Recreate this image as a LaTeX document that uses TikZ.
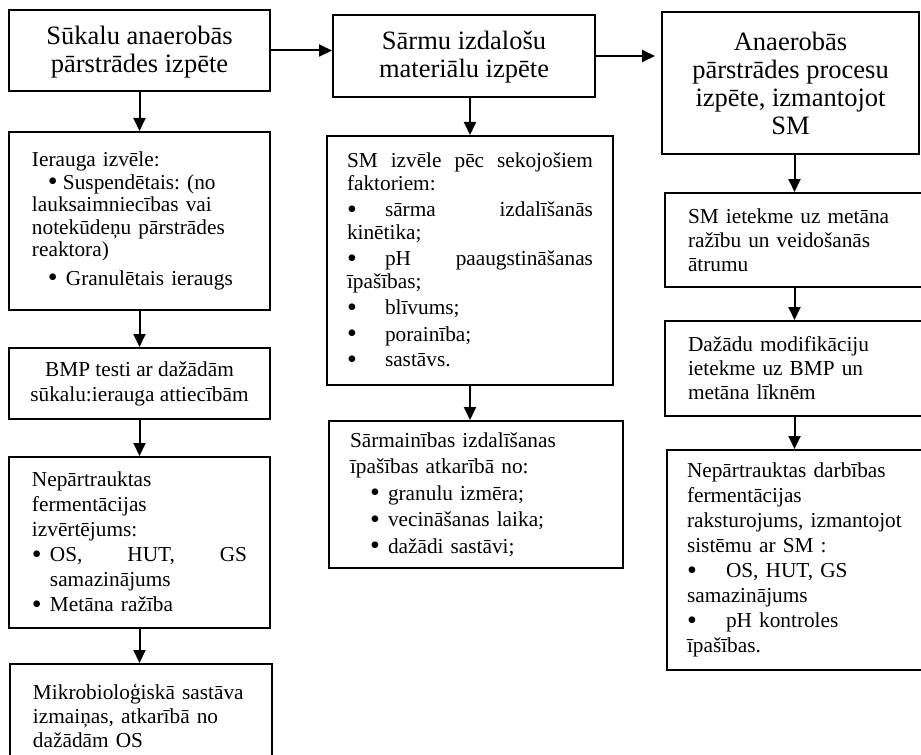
\documentclass[tikz,border=0pt]{standalone}
\usepackage{fontspec}
\setmainfont{Liberation Serif}
\usetikzlibrary{arrows.meta}
\frenchspacing
\hyphenpenalty=10000
\exhyphenpenalty=10000
\newcommand{\blt}{\raisebox{-1.5bp}{\fontsize{28bp}{0bp}\selectfont •}}

\tikzset{every picture/.style={line width=2bp}}
\tikzset{
  box/.style={draw, inner ysep=0pt, align=left, font=\fontsize{21.3bp}{24bp}\selectfont},
  headbox/.style={box, align=center, font=\fontsize{26.5bp}{28bp}\selectfont},
  arr/.style={-{Triangle[length=13bp,width=12bp]}}
}

\begin{document}
\begin{tikzpicture}[x=1bp,y=1bp,yscale=-1,xscale=1]
\useasboundingbox (0,0) rectangle (921,755);

%Shape: Rectangle [id:sukalu]
\node[headbox, minimum width=261bp, minimum height=81bp, text depth=3bp] (sukalu) at (139.5,50.5) {Sūkalu anaerobās\\pārstrādes izpēte};
%Shape: Rectangle [id:sarmu]
\node[headbox, minimum width=262bp, minimum height=82bp, text depth=3bp] (sarmu) at (464,56) {Sārmu izdalošu\\materiālu izpēte};
%Shape: Rectangle [id:anaer]
\node[headbox, minimum width=257bp, minimum height=142bp] (anaer) at (790.5,83) {Anaerobās\\pārstrādes procesu\\izpēte, izmantojot\\SM};

%Shape: Rectangle [id:ierauga]
\node[box, minimum width=261bp, minimum height=178bp, text width=215bp, inner xsep=23bp, font=\fontsize{21.3bp}{22.5bp}\selectfont] (ierauga) at (139.5,221) {Ierauga izvēle:\\ \hspace*{16bp}\makebox[15bp][l]{\blt}Suspendētais: (no\\ lauksaimniecības vai\\ notekūdeņu pārstrādes\\ reaktora)\\[6bp] \hspace*{16bp}\makebox[18bp][l]{\blt}Granulētais ieraugs};
%Shape: Rectangle [id:bmp]
\node[box, align=center, minimum width=261bp, minimum height=71bp, font=\fontsize{21.3bp}{25bp}\selectfont] (bmp) at (139.5,383.5) {BMP testi ar dažādām\\sūkalu:ierauga attiecībām};
%Shape: Rectangle [id:nepart]
\node[box, minimum width=261bp, minimum height=171bp, text width=215bp, inner xsep=23bp, font=\fontsize{21.3bp}{25bp}\selectfont] (nepart) at (139.5,542.5) {Nepārtrauktas\\ fermentācijas\\ izvērtējums:\\ \makebox[18bp][l]{\blt}OS,\hfill HUT,\hfill GS\\ \hspace*{18bp}samazinājums\\ \makebox[18bp][l]{\blt}Metāna ražība};
%Shape: Rectangle [id:mikro]
\node[box, minimum width=262bp, minimum height=104bp, text width=216bp, inner xsep=23bp] (mikro) at (141,716) {Mikrobioloģiskā sastāva\\ izmaiņas, atkarībā no\\ dažādām OS};

%Shape: Rectangle [id:smizvele]
\node[box, minimum width=286bp, minimum height=249bp, text width=246bp, inner xsep=20bp, font=\fontsize{21.3bp}{22.5bp}\selectfont] (smizvele) at (470,260.5) {SM\hfill izvēle\hfill pēc\hfill sekojošiem\\ faktoriem:\\[4bp] \makebox[38bp][l]{\blt}sārma\hfill izdalīšanās\\ kinētika;\\[4bp] \makebox[38bp][l]{\blt}pH\hfill paaugstināšanas\\ īpašības;\\[4bp] \makebox[38bp][l]{\blt}blīvums;\\[4bp] \makebox[38bp][l]{\blt}porainība;\\[3bp] \makebox[38bp][l]{\blt}sastāvs.};
%Shape: Rectangle [id:sarmain]
\node[box, minimum width=294bp, minimum height=147bp, text width=252bp, inner xsep=21bp, font=\fontsize{21.3bp}{26.5bp}\selectfont] (sarmain) at (476,494.5) {Sārmainības izdalīšanas\\ īpašības atkarībā no:\\ \hspace*{20bp}\makebox[18bp][l]{\blt}granulu izmēra;\\ \hspace*{20bp}\makebox[18bp][l]{\blt}vecināšanas laika;\\ \hspace*{20bp}\makebox[18bp][l]{\blt}dažādi sastāvi;};

%Shape: Rectangle [id:smietekme]
\node[box, minimum width=259bp, minimum height=94bp, text width=213bp, inner xsep=23bp] (smietekme) at (794.5,240) {SM ietekme uz metāna\\ ražību un veidošanās\\ ātrumu};
%Shape: Rectangle [id:dazadu]
\node[box, minimum width=259bp, minimum height=95bp, text width=213bp, inner xsep=23bp] (dazadu) at (794.5,368.5) {Dažādu modifikāciju\\ ietekme uz BMP un\\ metāna līknēm};
%Shape: Rectangle [id:nepartsm]
\node[box, minimum width=258bp, minimum height=220bp, text width=218bp, inner xsep=20bp, font=\fontsize{21.3bp}{25bp}\selectfont] (nepartsm) at (796,560) {Nepārtrauktas darbības\\ fermentācijas\\ raksturojums, izmantojot\\ sistēmu ar SM :\\ \makebox[39bp][l]{\blt}OS, HUT, GS\\ samazinājums\\ \makebox[39bp][l]{\blt}pH kontroles\\ īpašības.};

% Connection
\draw[arr] (sukalu.east) -- (sukalu.east -| sarmu.west);
% Connection
\draw[arr, shorten >=6bp] (sarmu.east) -- (sarmu.east -| anaer.west);
% Connection
\draw[arr] (sukalu.south) -- (ierauga.north);
\draw[arr] (ierauga.south) -- (bmp.north);
\draw[arr] (bmp.south) -- (nepart.north);
\draw[arr] (nepart.south) -- (nepart.south |- mikro.north);
% Connection
\draw[arr] (smizvele.north |- sarmu.south) -- (smizvele.north);
\draw[arr] (smizvele.south) -- (smizvele.south |- sarmain.north);
% Connection
\draw[arr] (smietekme.north |- anaer.south) -- (smietekme.north);
\draw[arr] (smietekme.south) -- (dazadu.north);
\draw[arr] (dazadu.south) -- (dazadu.south |- nepartsm.north);

\end{tikzpicture}
\end{document}
